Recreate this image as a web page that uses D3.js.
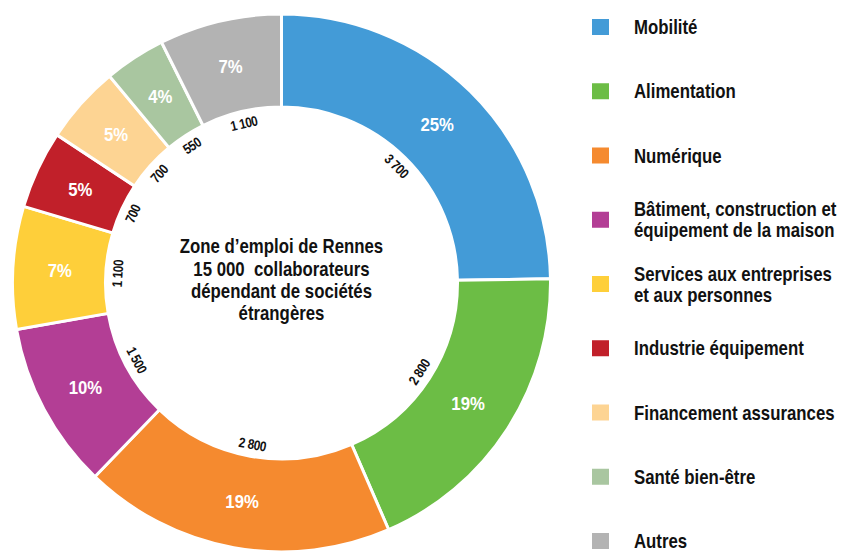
<!DOCTYPE html>
<html>
<head>
<meta charset="utf-8">
<script src="https://cdn.jsdelivr.net/npm/d3@7"></script>
<style>
  body { margin: 0; background: #fff; }
  svg text { font-family: "Liberation Sans", Arial, sans-serif; font-weight: bold; }
</style>
</head>
<body>
<div id="chart"></div>
<script>
// sectors, in drawing order (clockwise from 12 o'clock)
const categories = ["Mobilité", "Alimentation", "Numérique", "Bâtiment, construction et équipement de la maison",
  "Services aux entreprises et aux personnes", "Industrie équipement", "Financement assurances",
  "Santé bien-être", "Autres"];
const legendLines = [["Mobilité"], ["Alimentation"], ["Numérique"],
  ["Bâtiment, construction et", "équipement de la maison"],
  ["Services aux entreprises", "et aux personnes"], ["Industrie équipement"],
  ["Financement assurances"], ["Santé bien-être"], ["Autres"]];
const values = [3700, 2800, 2800, 1500, 1100, 700, 700, 550, 1100];
const valueLabels = ["3 700", "2 800", "2 800", "1 500", "1 100", "700", "700", "550", "1 100"];
const percentLabels = ["25%", "19%", "19%", "10%", "7%", "5%", "5%", "4%", "7%"];
const colors = ["#439bd7", "#6cbd45", "#f58a2f", "#b33e95", "#fecf3a", "#c1202a", "#fdd493", "#a9c6a0", "#b3b3b3"];
const centerLines = ["Zone d\u2019emploi de Rennes", "15 000  collaborateurs", "dépendant de sociétés", "étrangères"];

const width = 842, height = 552;
const cx = 281.5, cy = 283;
const outerR = 269, innerR = 176;
const squeeze = 0.84; // no condensed face installed, so narrow the text

const svg = d3.select("#chart").append("svg")
  .attr("width", width)
  .attr("height", height);

const data = categories.map((c, i) => ({ name: c, value: values[i], i: i }));

const pie = d3.pie().sort(null).value(d => d.value);
const arcs = pie(data);
const arc = d3.arc().innerRadius(innerR).outerRadius(outerR);
const labelArc = d3.arc().innerRadius(222).outerRadius(222);

const g = svg.append("g").attr("transform", `translate(${cx},${cy})`);

g.selectAll("path")
  .data(arcs)
  .enter()
  .append("path")
  .attr("d", arc)
  .attr("fill", d => colors[d.data.i])
  .attr("stroke", "#fff")
  .attr("stroke-width", 3);

// percentages inside the ring
g.selectAll(".pct")
  .data(arcs)
  .enter()
  .append("text")
  .attr("class", "pct")
  .attr("transform", d => `translate(${labelArc.centroid(d)}) scale(0.88,1)`)
  .attr("text-anchor", "middle")
  .attr("dominant-baseline", "central")
  .attr("fill", "#fff")
  .attr("font-size", 19)
  .text(d => percentLabels[d.data.i]);

// headcounts along the inner edge
const valR = 164;
g.selectAll(".val")
  .data(arcs)
  .enter()
  .append("text")
  .attr("class", "val")
  .attr("transform", d => {
    const a = (d.startAngle + d.endAngle) / 2;
    const deg = a * 180 / Math.PI;
    const x = valR * Math.sin(a), y = -valR * Math.cos(a);
    const rot = (deg > 90 && deg < 270) ? deg - 180 : (deg >= 270 ? deg - 360 : deg);
    return `translate(${x},${y}) rotate(${rot}) scale(${squeeze},1)`;
  })
  .attr("text-anchor", "middle")
  .attr("dominant-baseline", "central")
  .attr("font-size", 14)
  .attr("letter-spacing", -0.5)
  .attr("fill", "#111")
  .text(d => valueLabels[d.data.i]);

// centre caption
g.append("text")
  .attr("transform", `scale(${squeeze},1)`)
  .attr("text-anchor", "middle")
  .attr("font-size", 20)
  .attr("fill", "#111")
  .style("white-space", "pre")
  .selectAll("tspan")
  .data(centerLines)
  .enter()
  .append("tspan")
  .attr("x", 0)
  .attr("y", (d, i) => -30 + i * 22.5)
  .text(d => d);

// legend
const ly = d3.scalePoint().domain(categories).range([27, 541]);
const legend = svg.append("g");
const item = legend.selectAll("g")
  .data(data)
  .enter()
  .append("g")
  .attr("transform", d => `translate(592,${ly(d.name)})`);

item.append("rect")
  .attr("x", 0)
  .attr("y", -8)
  .attr("width", 17)
  .attr("height", 16)
  .attr("fill", d => colors[d.i]);

item.append("text")
  .attr("transform", `translate(42,0) scale(${squeeze},1)`)
  .attr("font-size", 20)
  .attr("fill", "#111")
  .selectAll("tspan")
  .data(d => legendLines[d.i].map((t, j, arr) => ({ t, j, n: arr.length })))
  .enter()
  .append("tspan")
  .attr("x", 0)
  .attr("y", d => 7 + (d.j - (d.n - 1) / 2) * 21)
  .text(d => d.t);
</script>
</body>
</html>
